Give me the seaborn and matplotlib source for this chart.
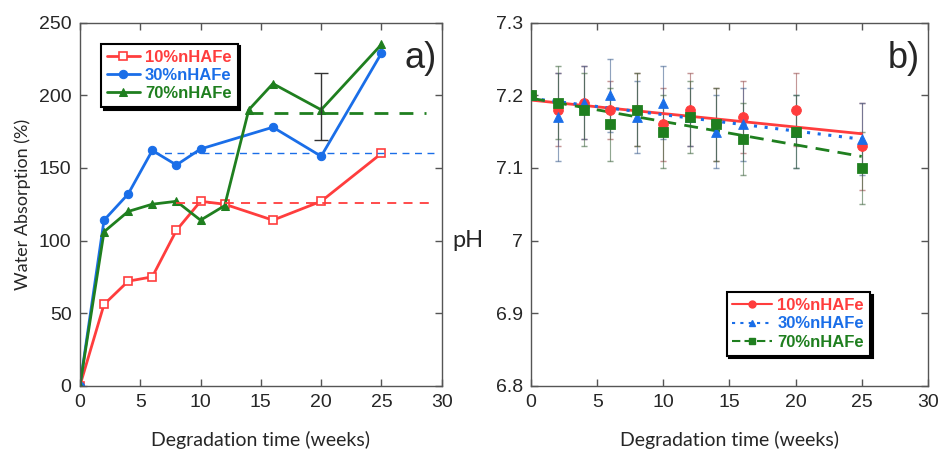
import numpy as np
import pandas as pd
import matplotlib
matplotlib.use('Agg')
import matplotlib.pyplot as plt
import seaborn as sns
from matplotlib.lines import Line2D

sns.set_style('ticks')
plt.rcParams['font.family'] = ['Liberation Sans', 'DejaVu Sans']

# ---- data: water absorption (a) ----
weeks_10 = [0, 2, 4, 6, 8, 10, 12, 16, 20, 25]
wa_10 = [0, 56, 72, 75, 107, 127, 125, 114, 127, 160]
weeks_30 = [0, 2, 4, 6, 8, 10, 16, 20, 25]
wa_30 = [0, 114, 132, 162, 152, 163, 178, 158, 229]
weeks_70 = [0, 2, 4, 6, 8, 10, 12, 14, 16, 20, 25]
wa_70 = [0, 106, 120, 125, 127, 114, 124, 190, 208, 190, 235]
err_x = [20]
err_y = [192]
err_size = [23]
mean_10, mean_30, mean_70 = 126, 160, 188
mean_span_10 = (8, 29.5)
mean_span_30 = (6, 29.5)
mean_span_70 = (14, 28.7)

# ---- data: pH (b) ----
weeks_ph = [0, 2, 4, 6, 8, 10, 12, 14, 16, 20, 25]
ph_10 = [7.20, 7.18, 7.19, 7.18, 7.18, 7.16, 7.18, 7.16, 7.17, 7.18, 7.13]
ph_30 = [7.20, 7.17, 7.19, 7.20, 7.17, 7.19, 7.17, 7.15, 7.16, 7.15, 7.14]
ph_70 = [7.20, 7.19, 7.18, 7.16, 7.18, 7.15, 7.17, 7.16, 7.14, 7.15, 7.10]
ph_err_10 = [0.0, 0.05, 0.05, 0.04, 0.05, 0.05, 0.05, 0.05, 0.05, 0.05, 0.06]
ph_err_30 = [0.0, 0.06, 0.05, 0.05, 0.05, 0.05, 0.04, 0.05, 0.05, 0.05, 0.05]
ph_err_70 = [0.0, 0.05, 0.05, 0.05, 0.05, 0.05, 0.05, 0.05, 0.05, 0.05, 0.05]

labels = ['10%nHAFe', '30%nHAFe', '70%nHAFe']
red, blue, green = '#ff3d3d', '#1a6ee8', '#1f7f1f'
label_font = ['Lato', 'DejaVu Sans']
shadow = {'color': 'black', 'alpha': 1}

fig = plt.figure(figsize=(9.4, 4.62), dpi=100)
ax1 = fig.add_axes([0.085, 0.165, 0.385, 0.786])
ax2 = fig.add_axes([0.565, 0.165, 0.422, 0.786])

# panel a
sns.lineplot(x=weeks_10, y=wa_10, ax=ax1, color=red, lw=2, marker='s', markersize=6,
             markerfacecolor='white', markeredgecolor=red, markeredgewidth=1.2, label=labels[0])
sns.lineplot(x=weeks_30, y=wa_30, ax=ax1, color=blue, lw=2, marker='o', markersize=6,
             markeredgecolor=blue, label=labels[1])
sns.lineplot(x=weeks_70, y=wa_70, ax=ax1, color=green, lw=2, marker='^', markersize=6,
             markeredgecolor=green, label=labels[2])
ax1.hlines(mean_10, *mean_span_10, color=red, ls=(0, (5, 4)), lw=1.3)
ax1.hlines(mean_30, *mean_span_30, color=blue, ls=(0, (5, 4)), lw=1.0)
ax1.hlines(mean_70, *mean_span_70, color=green, ls=(0, (5, 4)), lw=2)
ax1.errorbar(err_x, err_y, yerr=err_size, fmt='none', ecolor='#333333', capsize=5, lw=1)

ax1.set_xlim(0, 30)
ax1.set_ylim(0, 250)
ax1.set_xticks(range(0, 31, 5))
ax1.set_yticks(range(0, 251, 50))
ax1.set_xlabel('Degradation time (weeks)', family=label_font, fontsize=14, labelpad=14)
ax1.set_ylabel('Water Absorption (%)', family=label_font, fontsize=13, labelpad=6)
ax1.text(0.985, 0.876, 'a)', transform=ax1.transAxes, fontsize=26, ha='right')
leg1 = ax1.legend(loc='upper left', bbox_to_anchor=(0.035, 0.965), frameon=True, fancybox=False,
                  shadow=shadow, edgecolor='black', fontsize=12, handlelength=2.0,
                  borderpad=0.35, labelspacing=0.2, handletextpad=0.3)
leg1.get_frame().set_linewidth(1.5)
for t, c in zip(leg1.get_texts(), [red, blue, green]):
    t.set_color(c)
    t.set_fontweight('bold')

# panel b
for w, y, e, c, m in [(weeks_ph, ph_10, ph_err_10, red, 'o'),
                      (weeks_ph, ph_30, ph_err_30, blue, '^'),
                      (weeks_ph, ph_70, ph_err_70, green, 's')]:
    ax2.errorbar(w, y, yerr=e, fmt='none', ecolor=c, alpha=0.35, capsize=2, lw=0.8)
    ax2.errorbar(w, y, yerr=e, fmt='none', ecolor='#555555', alpha=0.35, capsize=2, lw=0.8)
    sns.scatterplot(x=w, y=y, ax=ax2, color=c, marker=m, s=50, edgecolor=c, zorder=3)

df = pd.DataFrame({'w': weeks_ph, 'a': ph_10, 'b': ph_30, 'c': ph_70})
sns.regplot(data=df, x='w', y='a', ax=ax2, scatter=False, ci=None, color=red,
            line_kws={'lw': 2, 'ls': '-'})
sns.regplot(data=df, x='w', y='b', ax=ax2, scatter=False, ci=None, color=blue,
            line_kws={'lw': 2.2, 'ls': (0, (1, 2.5))})
sns.regplot(data=df, x='w', y='c', ax=ax2, scatter=False, ci=None, color=green,
            line_kws={'lw': 2, 'ls': (0, (5, 3))})

ax2.set_xlim(0, 30)
ax2.set_ylim(6.8, 7.3)
ax2.set_xticks(range(0, 31, 5))
ax2.set_yticks([6.8, 6.9, 7.0, 7.1, 7.2, 7.3])
ax2.set_yticklabels(['6.8', '6.9', '7', '7.1', '7.2', '7.3'])
ax2.set_xlabel('Degradation time (weeks)', family=label_font, fontsize=14, labelpad=14)
ax2.set_ylabel('pH', family=label_font, fontsize=17, rotation=0)
ax2.yaxis.set_label_coords(-0.16, 0.37)
ax2.text(0.98, 0.876, 'b)', transform=ax2.transAxes, fontsize=26, ha='right')
handles = [Line2D([], [], color=red, lw=1.5, marker='o', markersize=5),
           Line2D([], [], color=blue, lw=1.5, ls=(0, (1.5, 2.5)), marker='^', markersize=5),
           Line2D([], [], color=green, lw=1.5, ls=(0, (4, 2)), marker='s', markersize=5)]
leg2 = ax2.legend(handles, labels, loc='lower right', bbox_to_anchor=(0.875, 0.06), frameon=True,
                  fancybox=False, shadow=shadow, edgecolor='black', fontsize=12,
                  handlelength=2.4, borderpad=0.35, labelspacing=0.2, handletextpad=0.3)
leg2.get_frame().set_linewidth(1.5)
for t, c in zip(leg2.get_texts(), [red, blue, green]):
    t.set_color(c)
    t.set_fontweight('bold')

for ax in (ax1, ax2):
    ax.tick_params(direction='in', top=True, right=True, labelsize=14, length=5, width=1,
                   color='#555555', pad=6)
    for s in ax.spines.values():
        s.set_color('#555555')
        s.set_linewidth(1)

fig.savefig('out.png', dpi=100)
